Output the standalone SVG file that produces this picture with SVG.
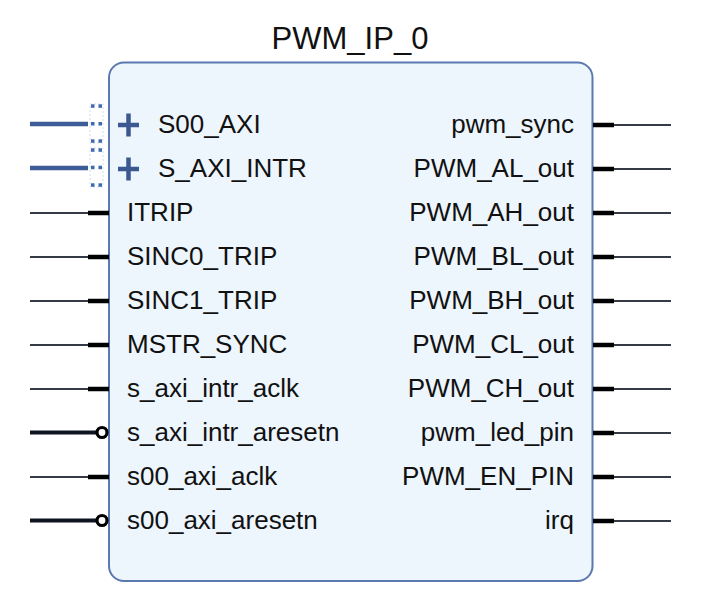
<svg xmlns="http://www.w3.org/2000/svg" width="705" height="601" viewBox="0 0 705 601">
<style>
.lbl{font-family:"Liberation Sans",Arial,sans-serif;font-size:26px;fill:#111}
.r{text-anchor:end}
.title{font-family:"Liberation Sans",Arial,sans-serif;font-size:31px;fill:#111;text-anchor:middle}
.thin{stroke:#343a46;stroke-width:1.8;fill:none}
.stub{stroke:#000;stroke-width:4.5;fill:none}
.bus{stroke:#3e5c98;stroke-width:4.5;fill:none}
.rst{stroke:#0f1520;stroke-width:4;fill:none}
.inv{stroke:#000;stroke-width:3.2;fill:#fff}
.plus{stroke:#3b5890;stroke-width:4.5;fill:none}
.dot{fill:#3e6ab0}
.dotframe{fill:none;stroke:#cfdcef;stroke-width:1;stroke-dasharray:2 2}
</style>
<rect x="0" y="0" width="705" height="601" fill="#fff"/>
<g id="block">
<text class="title" x="350" y="49">PWM_IP_0</text>
<rect x="109" y="62.5" width="483.5" height="518.5" rx="15" ry="15" fill="#edf5fd" stroke="#5b78b0" stroke-width="2"/>
</g>
<g id="connectors">
<line class="bus" x1="30" y1="124" x2="88" y2="124"/>
<line class="bus" x1="30" y1="168" x2="88" y2="168"/>
<line class="thin" x1="30" y1="213" x2="88" y2="213"/><line class="stub" x1="88" y1="213" x2="109" y2="213"/>
<line class="thin" x1="30" y1="257" x2="88" y2="257"/><line class="stub" x1="88" y1="257" x2="109" y2="257"/>
<line class="thin" x1="30" y1="301" x2="88" y2="301"/><line class="stub" x1="88" y1="301" x2="109" y2="301"/>
<line class="thin" x1="30" y1="345" x2="88" y2="345"/><line class="stub" x1="88" y1="345" x2="109" y2="345"/>
<line class="thin" x1="30" y1="389" x2="88" y2="389"/><line class="stub" x1="88" y1="389" x2="109" y2="389"/>
<line class="rst" x1="30" y1="432.5" x2="96" y2="432.5"/><circle class="inv" cx="102" cy="432.5" r="5"/>
<line class="thin" x1="30" y1="477" x2="88" y2="477"/><line class="stub" x1="88" y1="477" x2="109" y2="477"/>
<line class="rst" x1="30" y1="520.5" x2="96" y2="520.5"/><circle class="inv" cx="102" cy="520.5" r="5"/>
<line class="stub" x1="593" y1="125" x2="614" y2="125"/><line class="thin" x1="614" y1="125" x2="671" y2="125"/>
<line class="stub" x1="593" y1="169" x2="614" y2="169"/><line class="thin" x1="614" y1="169" x2="671" y2="169"/>
<line class="stub" x1="593" y1="213" x2="614" y2="213"/><line class="thin" x1="614" y1="213" x2="671" y2="213"/>
<line class="stub" x1="593" y1="257" x2="614" y2="257"/><line class="thin" x1="614" y1="257" x2="671" y2="257"/>
<line class="stub" x1="593" y1="301" x2="614" y2="301"/><line class="thin" x1="614" y1="301" x2="671" y2="301"/>
<line class="stub" x1="593" y1="345" x2="614" y2="345"/><line class="thin" x1="614" y1="345" x2="671" y2="345"/>
<line class="stub" x1="593" y1="389" x2="614" y2="389"/><line class="thin" x1="614" y1="389" x2="671" y2="389"/>
<line class="stub" x1="593" y1="433" x2="614" y2="433"/><line class="thin" x1="614" y1="433" x2="671" y2="433"/>
<line class="stub" x1="593" y1="477" x2="614" y2="477"/><line class="thin" x1="614" y1="477" x2="671" y2="477"/>
<line class="stub" x1="593" y1="521" x2="614" y2="521"/><line class="thin" x1="614" y1="521" x2="671" y2="521"/>
</g>
<g id="port-S00_AXI">
<rect class="dotframe" x="90" y="104" width="13" height="39"/>
<rect class="dot" x="91" y="104.3" width="3.5" height="3.5"/><rect class="dot" x="98.5" y="104.3" width="3.5" height="3.5"/>
<rect class="dot" x="91" y="122" width="3.5" height="3.5"/><rect class="dot" x="98.5" y="122" width="3.5" height="3.5"/>
<rect class="dot" x="91" y="139.3" width="3.5" height="3.5"/><rect class="dot" x="98.5" y="139.3" width="3.5" height="3.5"/>
<path class="plus" d="M118 125H139M128.5 113.5V136.5"/>
<text class="lbl" x="158" y="133">S00_AXI</text>
</g>
<g id="port-S_AXI_INTR">
<rect class="dotframe" x="90" y="148" width="13" height="39"/>
<rect class="dot" x="91" y="148.3" width="3.5" height="3.5"/><rect class="dot" x="98.5" y="148.3" width="3.5" height="3.5"/>
<rect class="dot" x="91" y="165.7" width="3.5" height="3.5"/><rect class="dot" x="98.5" y="165.7" width="3.5" height="3.5"/>
<rect class="dot" x="91" y="183.3" width="3.5" height="3.5"/><rect class="dot" x="98.5" y="183.3" width="3.5" height="3.5"/>
<path class="plus" d="M118 169H139M128.5 157.5V180.5"/>
<text class="lbl" x="158" y="177">S_AXI_INTR</text>
</g>
<g id="left-ports">
<text class="lbl" x="127" y="221">ITRIP</text>
<text class="lbl" x="127" y="265">SINC0_TRIP</text>
<text class="lbl" x="127" y="309">SINC1_TRIP</text>
<text class="lbl" x="127" y="353">MSTR_SYNC</text>
<text class="lbl" x="127" y="397">s_axi_intr_aclk</text>
<text class="lbl" x="127" y="441">s_axi_intr_aresetn</text>
<text class="lbl" x="127" y="485">s00_axi_aclk</text>
<text class="lbl" x="127" y="529">s00_axi_aresetn</text>
</g>
<g id="right-ports">
<text class="lbl r" x="574" y="133">pwm_sync</text>
<text class="lbl r" x="574" y="177">PWM_AL_out</text>
<text class="lbl r" x="574" y="221">PWM_AH_out</text>
<text class="lbl r" x="574" y="265">PWM_BL_out</text>
<text class="lbl r" x="574" y="309">PWM_BH_out</text>
<text class="lbl r" x="574" y="353">PWM_CL_out</text>
<text class="lbl r" x="574" y="397">PWM_CH_out</text>
<text class="lbl r" x="574" y="441">pwm_led_pin</text>
<text class="lbl r" x="574" y="485">PWM_EN_PIN</text>
<text class="lbl r" x="574" y="529">irq</text>
</g>
</svg>
